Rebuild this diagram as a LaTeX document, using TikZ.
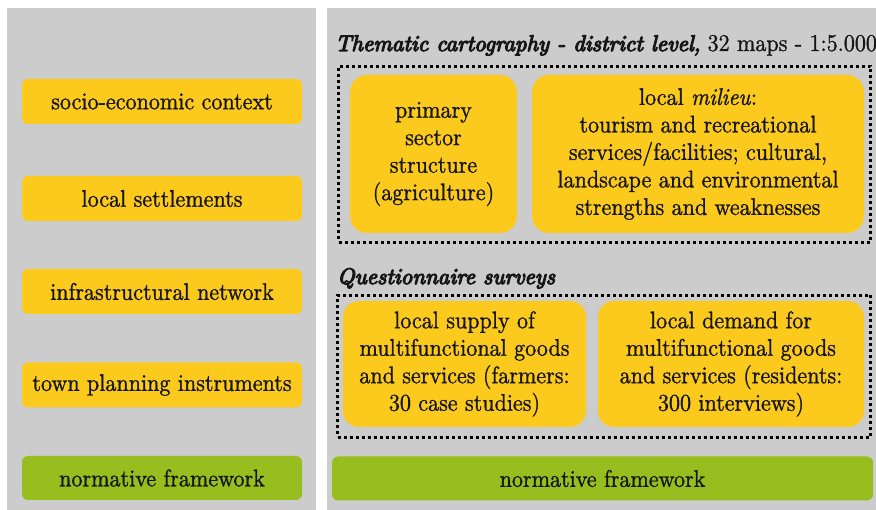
\documentclass[tikz,border=0pt]{standalone}
\usepackage{fontspec}
\setmainfont{lmroman10-regular.otf}[ItalicFont=lmroman10-italic.otf, BoldFont=lmroman10-bold.otf, UprightFeatures={FakeBold=1.1, FakeStretch=0.92}, ItalicFeatures={FakeBold=1.1, FakeStretch=0.92}]
\newfontface\headface{lmroman10-italic.otf}[FakeBold=5]
\definecolor{panelgray}{RGB}{204,204,204}
\definecolor{boxyellow}{RGB}{252,202,28}
\definecolor{boxgreen}{RGB}{151,190,30}
\definecolor{ink}{RGB}{22,22,22}
\begin{document}
\begin{tikzpicture}[x=1pt,y=-1pt,
  txt/.style={font=\fontsize{24}{27.5}\selectfont, text=ink, align=center, inner sep=0pt},
  head/.style={font=\fontsize{22.6}{26}\selectfont\headface, text=ink, inner sep=0pt, anchor=base west},
  panel/.style={fill=panelgray, draw=none, inner sep=0pt, anchor=north west},
  lbox/.style={txt, fill=boxyellow, rounded corners=6pt, minimum width=280pt, minimum height=45pt},
  gbox/.style={txt, fill=boxgreen, rounded corners=6pt, minimum height=44pt},
  bigbox/.style={txt, fill=boxyellow, rounded corners=17pt},
  dotframe/.style={draw=black, line width=3pt, dash pattern=on 3pt off 3pt, inner sep=0pt, anchor=north west}
]
\useasboundingbox (0,0) rectangle (876,510);
\fill[white] (0,0) rectangle (876,510);

% panels
\node[panel, minimum width=309pt, minimum height=502pt] (leftpanel) at (7,8) {};
\node[panel, minimum width=560pt, minimum height=502pt] (rightpanel) at (327,8) {};

% left column
\node[lbox] (socio) at (162,101.5) {socio-economic context};
\node[lbox] (settle) at (162,198.5) {local settlements};
\node[lbox] (infra) at (162,291.5) {infrastructural network};
\node[lbox] (town) at (162,385) {town planning instruments};
\node[gbox, minimum width=280pt] (normleft) at (162,478) {normative framework};

% right column: thematic cartography
\node[head] (title) at (335,51)
  {Thematic cartography - district level,\hspace{7pt}{\fontsize{24}{27.5}\normalfont 32 maps - 1:5.000}};
\node[dotframe, minimum width=532pt, minimum height=176pt] (thematicframe) at (337,65) {};
\node[bigbox, minimum width=167pt, minimum height=158pt] (primary) at (433.5,154)
  {primary\\sector\\structure\\(agriculture)};
\node[bigbox, minimum width=332pt, minimum height=158pt] (milieu) at (698,154)
  {local \textit{milieu}:\\tourism and recreational\\services/facilities; cultural,\\landscape and environmental\\strengths and weaknesses};

% questionnaire surveys
\node[head] (surveys) at (337,284) {Questionnaire surveys};
\node[dotframe, minimum width=533pt, minimum height=142pt] (surveyframe) at (336,294) {};
\node[bigbox, rounded corners=16pt, minimum width=243pt, minimum height=126pt] (supply) at (464.5,364)
  {local supply of\\multifunctional goods\\and services (farmers:\\30 case studies)};
\node[bigbox, rounded corners=16pt, minimum width=266pt, minimum height=126pt] (demand) at (731,364)
  {local demand for\\multifunctional goods\\and services (residents:\\300 interviews)};

\node[gbox, minimum width=541pt] (normright) at (602.5,478.5) {normative framework};
\end{tikzpicture}
\end{document}
